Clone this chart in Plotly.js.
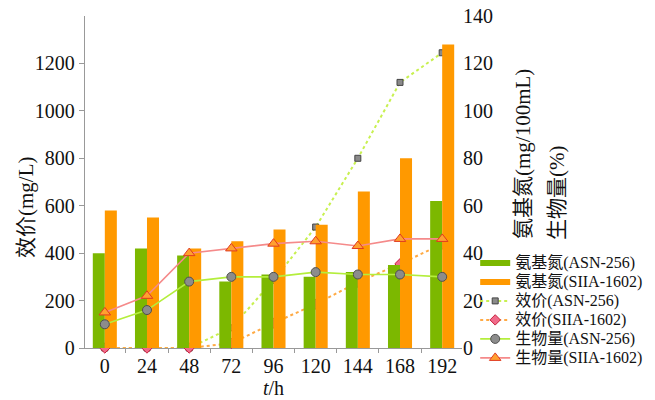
<!DOCTYPE html>
<html><head><meta charset="utf-8">
<script src="https://cdn.plot.ly/plotly-3.0.1.min.js"></script>
<style>body{margin:0;background:#fff}#c{width:655px;height:400px}</style>
</head><body><div id="c"></div>
<script>
var hours = ['0','24','48','72','96','120','144','168','192'];
var aminoASN  = [40, 42, 39, 28, 31, 30, 32, 35, 62];
var aminoSIIA = [58, 55, 42, 45, 50, 52, 66, 80, 128];
var titerASN  = [0, 0, 0, 85, 285, 510, 800, 1120, 1245];
var titerSIIA = [0, 0, 0, 20, 105, 185, 277, 355, 438];
var bioASN    = [10, 16, 28, 30, 30, 32, 31, 31, 30];
var bioSIIA   = [15, 22, 40, 42, 44, 45, 43, 46, 46];
var names = ['氨基氮(ASN-256)','氨基氮(SIIA-1602)','效价(ASN-256)','效价(SIIA-1602)','生物量(ASN-256)','生物量(SIIA-1602)'];

var FONT = 'Liberation Serif, Times New Roman, Noto Sans CJK SC, serif';
var green = '#7cb800', orange = '#ff9900';
function lg(s){ return '<span style="font-size:16px">' + s + '</span>'; }

var traces = [
  {type:'bar', x:hours, y:aminoASN, yaxis:'y2', marker:{color:green}, name:names[0], showlegend:false},
  {type:'bar', x:hours, y:aminoSIIA, yaxis:'y2', marker:{color:orange}, name:names[1], showlegend:false},
  {type:'scatter', mode:'lines', x:[null], y:[null], line:{color:green, width:6}, name:lg(names[0]), yaxis:'y2'},
  {type:'scatter', mode:'lines', x:[null], y:[null], line:{color:orange, width:6}, name:lg(names[1]), yaxis:'y2'},
  {type:'scatter', mode:'lines+markers', x:hours, y:titerASN, name:lg(names[2]), cliponaxis:false,
   line:{color:'#c8f050', width:2, dash:'dot'},
   marker:{symbol:'square', size:6, color:'#8a8a8a', line:{color:'#444', width:1}}},
  {type:'scatter', mode:'lines+markers', x:hours, y:titerSIIA, name:lg(names[3]), cliponaxis:false,
   line:{color:'#ffaa44', width:2, dash:'dot'},
   marker:{symbol:'diamond', size:8, color:'#f06a8a', line:{color:'#c8203c', width:1}}},
  {type:'scatter', mode:'lines+markers', x:hours, y:bioASN, yaxis:'y2', name:lg(names[4]),
   line:{color:'#b4ee3c', width:1.6},
   marker:{symbol:'circle', size:9, color:'#8c8c8c', line:{color:'#505050', width:1}}},
  {type:'scatter', mode:'lines+markers', x:hours, y:bioSIIA, yaxis:'y2', name:lg(names[5]),
   line:{color:'#f58a8a', width:1.6},
   marker:{symbol:'triangle-up', size:10, color:'#ffa030', line:{color:'#e03a20', width:1}}}
];

var layout = {
  width:655, height:400,
  margin:{l:85, r:193, t:16, b:52, autoexpand:false},
  paper_bgcolor:'#fff', plot_bgcolor:'#fff',
  font:{family:FONT, color:'#111', size:20},
  barmode:'group', bargap:0.43, bargroupgap:0,
  showlegend:true,
  legend:{x:1.035, y:0.30, xanchor:'left', yanchor:'top', font:{size:12, family:FONT},
          bgcolor:'rgba(0,0,0,0)', tracegroupgap:0, itemwidth:30, traceorder:'normal'},
  xaxis:{type:'category', categoryorder:'array', categoryarray:hours, range:[-0.47, 8.47],
         showline:true, linecolor:'#999', linewidth:1.2, ticks:'outside', ticklen:4, tickcolor:'#999',
         tickson:'boundaries', showgrid:false, zeroline:false, layer:'below traces',
         tickfont:{size:20}, title:{text:'<i>t</i>/h', font:{size:20}, standoff:0}},
  yaxis:{range:[0,1400], tickvals:[0,200,400,600,800,1000,1200], showline:true, linecolor:'#999',
         linewidth:1.2, ticks:'outside', ticklen:5, tickcolor:'#999', showgrid:false, zeroline:false,
         layer:'below traces', tickfont:{size:20}},
  yaxis2:{range:[0,140], tickvals:[0,20,40,60,80,100,120,140], overlaying:'y', side:'right',
          showline:false, ticks:'', showgrid:false, zeroline:false, tickfont:{size:20}},
  annotations:[
    {text:'效价(mg/L)', textangle:-90, xref:'paper', yref:'paper',
     x:(26-85)/377, y:(348-208)/332, xanchor:'center', yanchor:'middle', showarrow:false, font:{size:21}},
    {text:'氨基氮(mg/100mL)', textangle:-90, xref:'paper', yref:'paper',
     x:(523-85)/377, y:(348-154)/332, xanchor:'center', yanchor:'middle', showarrow:false, font:{size:21}},
    {text:'生物量(%)', textangle:-90, xref:'paper', yref:'paper',
     x:(557-85)/377, y:(348-193)/332, xanchor:'center', yanchor:'middle', showarrow:false, font:{size:21}}
  ]
};
Plotly.newPlot('c', traces, layout, {displayModeBar:false, staticPlot:true});
</script></body></html>
